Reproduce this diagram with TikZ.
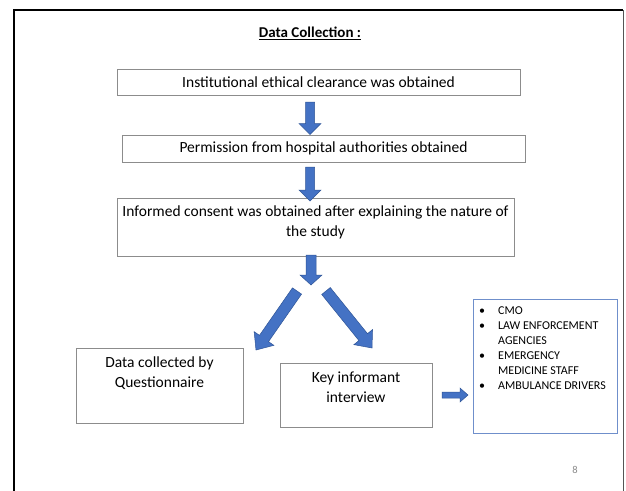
\documentclass[tikz,border=0pt]{standalone}
\usepackage{fontspec}
\setmainfont{Carlito}
\usetikzlibrary{calc}
\definecolor{boxgray}{HTML}{8C8C8C}
\definecolor{arrowfill}{HTML}{4472C4}
\definecolor{arrowedge}{HTML}{2F5597}
\definecolor{listedge}{HTML}{6F8FCB}
\definecolor{pagegray}{HTML}{8A8A8A}
\definecolor{framegray}{HTML}{555555}

% block arrow: #1 tail, #2 tip, #3 half shaft width, #4 half head width, #5 head length
\newcommand\blockarrow[5]{%
  \coordinate (ba-h) at ($(#2)!#5!(#1)$);
  \filldraw[fill=arrowfill, draw=arrowedge, line width=0.5pt, line join=miter]
    ($(#1)!#3!90:(#2)$) -- ($(ba-h)!#3!90:(#2)$) -- ($(ba-h)!#4!90:(#2)$) -- (#2)
    -- ($(ba-h)!#4!-90:(#2)$) -- ($(ba-h)!#3!-90:(#2)$) -- ($(#1)!#3!-90:(#2)$) -- cycle;}

\begin{document}
\begin{tikzpicture}[x=1pt,y=-1pt,
  stage/.style={draw=boxgray, line width=0.8pt, inner sep=0pt, align=center,
    font=\fontsize{15.5}{20}\selectfont},
  boxtext/.style={anchor=north, align=center, inner sep=0pt,
    font=\fontsize{15.5}{20}\selectfont},
]
\useasboundingbox (0,0) rectangle (626,490);
\fill[white] (0,0) rectangle (626,490);

% slide frame
\draw[line width=1.8pt] (14,492) -- (14,10) -- (623,10);
\draw[framegray, line width=1pt] (623,10) -- (623,492);

% title
\node[font=\fontsize{15}{18}\selectfont\bfseries] (title) at (310,33) {\underline{Data Collection :}};

% stages
\node[stage, minimum width=403, minimum height=26] (clearance) at (318.5,82)
  {Institutional ethical clearance was obtained};
\node[stage, minimum width=403, minimum height=27] (permission) at (323.5,148.5)
  {Permission from hospital authorities obtained};
\node[stage, minimum width=397, minimum height=58, anchor=north] (consent) at (315.5,198) {};
\node[boxtext] (consenttext) at ($(consent.north)+(0,8)$)
  {Informed consent was obtained after explaining the nature of\\the study};

\node[stage, minimum width=167, minimum height=75, anchor=north] (questionnaire) at (159.5,348) {};
\node[boxtext] (questionnairetext) at ($(questionnaire.north)+(0,8.5)$)
  {Data collected by\\Questionnaire};

\node[stage, minimum width=152, minimum height=64, anchor=north] (interview) at (356,363) {};
\node[boxtext] (interviewtext) at ($(interview.north)+(0,8.5)$)
  {Key informant\\interview};

\node[draw=listedge, line width=1pt, minimum width=144, minimum height=134, anchor=north west,
  inner sep=0pt] (informants) at (473,299) {};
\node[anchor=north west, inner sep=0pt, font=\fontsize{12}{15}\selectfont] (informantlist)
  at ($(informants.north west)+(6,5)$)
  {\begin{tabular}{@{}p{19pt}@{}l@{}}
   \textbullet & CMO\\
   \textbullet & LAW ENFORCEMENT\\
               & AGENCIES\\
   \textbullet & EMERGENCY\\
               & MEDICINE STAFF\\
   \textbullet & AMBULANCE DRIVERS
   \end{tabular}};

% page number
\node[font=\fontsize{10.5}{12}\selectfont, text=pagegray] (pagenum) at (575,470) {8};

% arrow end points
\coordinate (a1s) at (310,102);
\coordinate (a1e) at (310,134.5);
\coordinate (a2s) at (310,167);
\coordinate (a2e) at (310,201);
\coordinate (a3s) at (311,255);
\coordinate (a3e) at (311,285);
\coordinate (lds) at (297,291);
\coordinate (lde) at (256,350);
\coordinate (rds) at (326,291);
\coordinate (rde) at (372,348);
\coordinate (hs) at (442,395);
\coordinate (he) at (468,395);

\blockarrow{a1s}{a1e}{4.5pt}{11pt}{11pt}
\blockarrow{a2s}{a2e}{4.5pt}{11pt}{11pt}
\blockarrow{a3s}{a3e}{5pt}{11pt}{10pt}
\blockarrow{lds}{lde}{5.5pt}{12pt}{14pt}
\blockarrow{rds}{rde}{5.5pt}{12pt}{14pt}
\blockarrow{hs}{he}{3pt}{7pt}{8pt}
\end{tikzpicture}
\end{document}
